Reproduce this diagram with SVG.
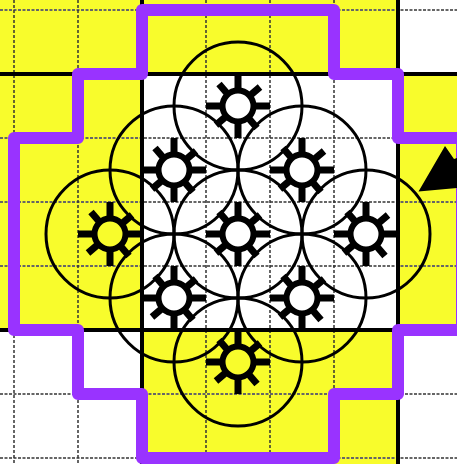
<svg xmlns="http://www.w3.org/2000/svg" width="457" height="464" viewBox="0 0 457 464">
<style>
.y{fill:#f8fc2c}
.h{stroke:#666;stroke-width:2;stroke-dasharray:3 1.500;fill:none}
.v{stroke:#333;stroke-width:1.500;stroke-dasharray:3 2;fill:none}
.k{stroke:#000;stroke-width:4;fill:none}
.c{stroke:#000;stroke-width:3;fill:none}
.r{stroke:#93f;stroke-width:12;fill:none;stroke-linejoin:round}
.g circle{fill:none;stroke:#000;stroke-width:6}
.g path{stroke:#000;stroke-width:7;fill:none}
</style>
<defs>
<g id="gear" class="g">
<circle r="15.500"/>
<path d="M0-15V-32M0 15V32M-15 0H-32M15 0H32M-11.500-13.200L-19-22M13.200-11.500L22-19M11.500 13.200L19 22M-13.200 11.500L-22 19"/>
</g>
</defs>
<rect width="457" height="464" fill="#fff"/>
<path class="y" d="M0 0H398V74H457V330H398V464H142V330H0Z"/>
<path d="M142 74H398V330H142Z" fill="#fff"/>
<g id="grid">
<path class="h" d="M0 10H457M0 138H457M0 202H457M0 266H457M0 331H457M0 394H457M0 458H457"/>
<path class="v" d="M14 0V464M78 0V464M206 0V464M270 0V464M334 0V464"/>
<path class="k" d="M0 74H457M0 330H457M142 0V464M398 0V464"/>
</g>
<g id="connectors">
<path class="r" d="M142 10H334V74H398V138H462V330H398V394H334V458H142V394H78V330H14V138H78V74H142Z"/>
<path id="arrow" d="M445 146L454 159L457 158V188L418.500 191.500Z" fill="#000"/>
</g>
<g id="circles">
<circle class="c" cx="238" cy="106" r="64"/>
<circle class="c" cx="174" cy="170" r="64"/>
<circle class="c" cx="302" cy="170" r="64"/>
<circle class="c" cx="110" cy="234" r="64"/>
<circle class="c" cx="238" cy="234" r="64"/>
<circle class="c" cx="366" cy="234" r="64"/>
<circle class="c" cx="174" cy="298" r="64"/>
<circle class="c" cx="302" cy="298" r="64"/>
<circle class="c" cx="238" cy="362" r="64"/>
</g>
<g id="node1"><use href="#gear" x="238" y="106"/></g>
<g id="node2"><use href="#gear" x="174" y="170"/></g>
<g id="node3"><use href="#gear" x="302" y="170"/></g>
<g id="node4"><use href="#gear" x="110" y="234"/></g>
<g id="node5"><use href="#gear" x="238" y="234"/></g>
<g id="node6"><use href="#gear" x="366" y="234"/></g>
<g id="node7"><use href="#gear" x="174" y="298"/></g>
<g id="node8"><use href="#gear" x="302" y="298"/></g>
<g id="node9"><use href="#gear" x="238" y="362"/></g>
</svg>
